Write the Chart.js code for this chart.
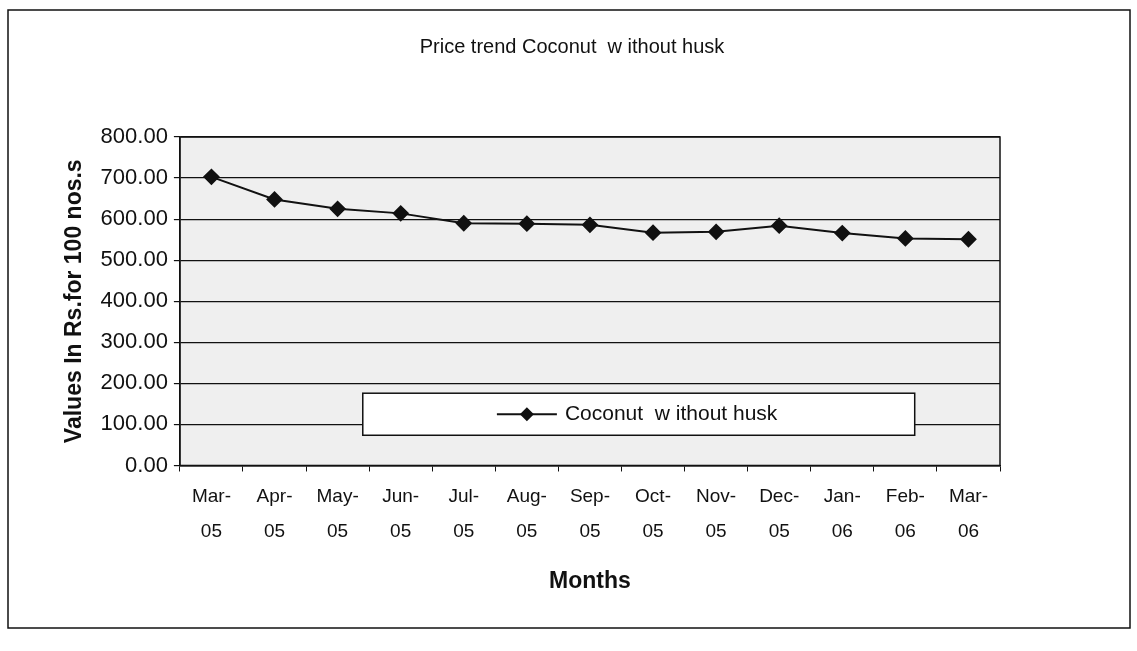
<!DOCTYPE html>
<html>
<head>
<meta charset="utf-8">
<script src="https://cdn.jsdelivr.net/npm/chart.js@4.4.1/dist/chart.umd.min.js"></script>
<style>
  html, body { margin: 0; padding: 0; background: #fff; }
  #wrap { width: 1137px; height: 651px; }
</style>
</head>
<body>
<div id="wrap"><canvas id="chartGia"></canvas></div>
<script>
const thangLabels = [
  ["Mar-", "05"], ["Apr-", "05"], ["May-", "05"], ["Jun-", "05"], ["Jul-", "05"],
  ["Aug-", "05"], ["Sep-", "05"], ["Oct-", "05"], ["Nov-", "05"], ["Dec-", "05"],
  ["Jan-", "06"], ["Feb-", "06"], ["Mar-", "06"]
];
const giaDuaArray = [703, 648, 625, 614, 590, 589, 586, 567, 569, 584, 566, 553, 551];
const tenSeries = "Coconut  w ithout husk";
const tieuDe = "Price trend Coconut  w ithout husk";

const FONT = "'Liberation Sans', Arial, sans-serif";
const FONT_HEP = "'Liberation Sans Narrow', 'Arial Narrow', 'Liberation Sans', Arial, sans-serif";

// khung ngoai, tieu de, nen xam cua vung ve, hop chu thich
const nenPlugin = {
  id: "nen",
  beforeDraw(chart) {
    const ctx = chart.ctx, ca = chart.chartArea;
    ctx.save();
    ctx.fillStyle = "#fff";
    ctx.fillRect(0, 0, chart.width, chart.height);
    ctx.strokeStyle = "#111";
    ctx.lineWidth = 1.5;
    ctx.strokeRect(8, 10, 1122, 618);
    ctx.fillStyle = "#efefef";
    ctx.fillRect(ca.left, ca.top, ca.right - ca.left, ca.bottom - ca.top);
    ctx.fillStyle = "#111";
    ctx.font = "20px " + FONT;
    ctx.textAlign = "center";
    ctx.textBaseline = "middle";
    ctx.fillText(tieuDe, 572, 47);
    ctx.restore();
  },
  afterDraw(chart) {
    const ctx = chart.ctx, ca = chart.chartArea;
    const w = ca.right - ca.left, h = ca.bottom - ca.top;
    ctx.save();
    ctx.strokeStyle = "#111";
    ctx.lineWidth = 1.5;
    ctx.strokeRect(ca.left, ca.top, w, h);
    const bx = ca.left + 0.223 * w, by = ca.top + 0.78 * h;
    const bw = 0.673 * w, bh = 0.128 * h;
    ctx.fillStyle = "#fff";
    ctx.fillRect(bx, by, bw, bh);
    ctx.strokeRect(bx, by, bw, bh);
    const cy = by + bh / 2;
    const lx = bx + 0.243 * bw;
    ctx.lineWidth = 2;
    ctx.beginPath();
    ctx.moveTo(lx, cy);
    ctx.lineTo(lx + 60, cy);
    ctx.stroke();
    ctx.fillStyle = "#111";
    ctx.beginPath();
    ctx.moveTo(lx + 30, cy - 7);
    ctx.lineTo(lx + 37, cy);
    ctx.lineTo(lx + 30, cy + 7);
    ctx.lineTo(lx + 23, cy);
    ctx.closePath();
    ctx.fill();
    ctx.font = "21px " + FONT;
    ctx.textBaseline = "middle";
    ctx.fillText(chart.data.datasets[0].label, lx + 68, cy);
    ctx.restore();
  }
};

function chartGiaDua() {
  const ctx = document.getElementById("chartGia").getContext("2d");
  new Chart(ctx, {
    type: "line",
    data: {
      labels: thangLabels,
      datasets: [
        {
          label: tenSeries,
          data: giaDuaArray,
          borderColor: "#111",
          backgroundColor: "#111",
          borderWidth: 2,
          pointStyle: "rectRot",
          pointRadius: 7,
          pointHoverRadius: 7,
          tension: 0,
        },
      ],
    },
    options: {
      responsive: true,
      maintainAspectRatio: false,
      animation: false,
      layout: { padding: { left: 53, right: 137, top: 137, bottom: 52 } },
      plugins: {
        legend: { display: false },
        tooltip: { enabled: false },
        title: { display: false },
      },
      scales: {
        x: {
          offset: true,
          border: { display: true, color: "#111", width: 1.5 },
          grid: {
            offset: true,
            drawOnChartArea: false,
            drawTicks: true,
            tickLength: 6,
            color: "#111",
          },
          ticks: {
            color: "#111",
            padding: 8,
            maxRotation: 0,
            autoSkip: false,
            font: { family: FONT_HEP, size: 19, lineHeight: 1.84 },
          },
          title: {
            display: true,
            text: "Months",
            color: "#111",
            font: { family: FONT, size: 23, weight: "bold" },
            padding: { top: 10, bottom: 4 },
          },
        },
        y: {
          min: 0,
          max: 800,
          border: { display: true, color: "#111", width: 1.5 },
          grid: { color: "#111", lineWidth: 1.2, tickLength: 6 },
          ticks: {
            stepSize: 100,
            color: "#111",
            padding: 6,
            font: { family: FONT, size: 22 },
            callback: (v) => Number(v).toFixed(2),
          },
          title: {
            display: true,
            text: "Values In Rs.for 100 nos.s",
            color: "#111",
            font: { family: FONT, size: 23, weight: "bold" },
            padding: { top: 8, bottom: 6 },
          },
        },
      },
    },
    plugins: [nenPlugin],
  });
}

chartGiaDua();
</script>
</body>
</html>
